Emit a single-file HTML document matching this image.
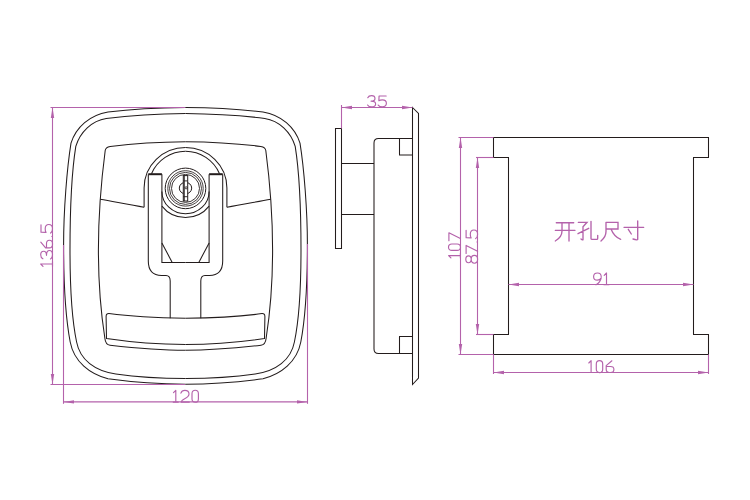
<!DOCTYPE html>
<html><head><meta charset="utf-8"><style>
html,body{margin:0;padding:0;background:#fff;width:750px;height:500px;overflow:hidden;font-family:"Liberation Sans",sans-serif;}
svg{display:block}
</style></head><body>
<svg width="750" height="500" viewBox="0 0 750 500">
<rect width="750" height="500" fill="#fff"/>
<path d="M185.5,107.4 C160,107.6 135,108.6 108,112 C90,115 76,127 71,143.2 C67,168 63.6,210 63.6,245 C63.6,290 66,320 70.2,342 C74,362 90,374 108,378.8 C135,382.5 160,384.2 185.5,384.2" stroke="#231c1c" stroke-width="1.05" fill="none"/>
<path d="M 185.50,107.40 C 211.00,107.60 236.00,108.60 263.00,112.00 C 281.00,115.00 295.00,127.00 300.00,143.20 C 304.00,168.00 307.40,210.00 307.40,245.00 C 307.40,290.00 305.00,320.00 300.80,342.00 C 297.00,362.00 281.00,374.00 263.00,378.80 C 236.00,382.50 211.00,384.20 185.50,384.20" stroke="#231c1c" stroke-width="1.05" fill="none"/>
<path d="M185.5,113.5 C160,113.8 130,115.5 106.2,118.4 C92,120.5 80,132 75.8,146.4 C72,170 70,215 70,250 C70,290 73,325 76.6,342 C80,360 95,371 115.8,374 C140,377.5 165,378.5 185.5,378.5" stroke="#231c1c" stroke-width="1.05" fill="none"/>
<path d="M 185.50,113.50 C 211.00,113.80 241.00,115.50 264.80,118.40 C 279.00,120.50 291.00,132.00 295.20,146.40 C 299.00,170.00 301.00,215.00 301.00,250.00 C 301.00,290.00 298.00,325.00 294.40,342.00 C 291.00,360.00 276.00,371.00 255.20,374.00 C 231.00,377.50 206.00,378.50 185.50,378.50" stroke="#231c1c" stroke-width="1.05" fill="none"/>
<path d="M185.5,141.8 C160,142 130,144 110.2,146.4 Q105.6,147.2 105.2,150.5 C102,175 98.4,215 98.4,250 C98.4,290 102,320 104.9,338.5 Q105.6,344.8 110,345.2 C135,348 165,350.2 185.5,350.2" stroke="#231c1c" stroke-width="1.05" fill="none"/>
<path d="M 185.50,141.80 C 211.00,142.00 241.00,144.00 260.80,146.40 Q 265.40,147.20 265.80,150.50 C 269.00,175.00 272.60,215.00 272.60,250.00 C 272.60,290.00 269.00,320.00 266.10,338.50 Q 265.40,344.80 261.00,345.20 C 236.00,348.00 206.00,350.20 185.50,350.20" stroke="#231c1c" stroke-width="1.05" fill="none"/>
<path d="M185.5,318.3 C160,318 130,316.5 109,313.6 Q106.2,313.4 106.1,316.5 L106.5,338.5 C130,342 160,344.4 185.5,344.5" stroke="#231c1c" stroke-width="1.05" fill="none"/>
<path d="M 185.50,318.30 C 211.00,318.00 241.00,316.50 262.00,313.60 Q 264.80,313.40 264.90,316.50 L 264.50,338.50 C 241.00,342.00 211.00,344.40 185.50,344.50" stroke="#231c1c" stroke-width="1.05" fill="none"/>
<path d="M100.2,199.2 C115,201.8 130,205 144.1,207.2" stroke="#231c1c" stroke-width="1.05" fill="none"/>
<path d="M 270.80,199.20 C 256.00,201.80 241.00,205.00 226.90,207.20" stroke="#231c1c" stroke-width="1.05" fill="none"/>
<path d="M144.1,207.2 L144.1,188 A41.4,40.5 0 0 1 185.5,147.5" stroke="#231c1c" stroke-width="1.05" fill="none"/>
<path d="M 226.90,207.20 L 226.90,188.00 A 41.4,40.5 0 0 0 185.50,147.50" stroke="#231c1c" stroke-width="1.05" fill="none"/>
<path d="M151.5,173.7 A37,37 0 0 1 185.5,151.3" stroke="#231c1c" stroke-width="1.05" fill="none"/>
<path d="M 219.50,173.70 A 37,37 0 0 0 185.50,151.30" stroke="#231c1c" stroke-width="1.05" fill="none"/>
<path d="M148.3,174.3 L148.3,261 Q148.3,275.4 161.6,275.4 L166,275.4 Q170.2,275.4 170.2,281 L170.2,318.3" stroke="#231c1c" stroke-width="1.05" fill="none"/>
<path d="M 222.70,174.30 L 222.70,261.00 Q 222.70,275.40 209.40,275.40 L 205.00,275.40 Q 200.80,275.40 200.80,281.00 L 200.80,318.30" stroke="#231c1c" stroke-width="1.05" fill="none"/>
<path d="M161.9,174.3 L161.9,262.4 L185.5,262.4" stroke="#231c1c" stroke-width="1.05" fill="none"/>
<path d="M 209.10,174.30 L 209.10,262.40 L 185.50,262.40" stroke="#231c1c" stroke-width="1.05" fill="none"/>
<path d="M148.3,174.2 L161.9,174.2" stroke="#231c1c" stroke-width="2.0" fill="none"/>
<path d="M 222.70,174.20 L 209.10,174.20" stroke="#231c1c" stroke-width="2.0" fill="none"/>
<path d="M161.9,243 L172.2,262.4" stroke="#231c1c" stroke-width="1.05" fill="none"/>
<path d="M 209.10,243.00 L 198.80,262.40" stroke="#231c1c" stroke-width="1.05" fill="none"/>
<path d="M161.9,191.4 A23.6,22.4 0 0 0 209.1,191.4" stroke="#231c1c" stroke-width="1.05" fill="none"/>
<path d="M161.9,206.1 A30.1,30.1 0 0 0 209.1,206.1" stroke="#231c1c" stroke-width="1.05" fill="none"/>
<circle cx="185.5" cy="188.4" r="20.3" stroke="#231c1c" stroke-width="1.0" fill="none"/>
<circle cx="185.5" cy="188.4" r="17.7" stroke="#231c1c" stroke-width="0.85" fill="none"/>
<circle cx="185.5" cy="188.4" r="16.0" stroke="#231c1c" stroke-width="0.85" fill="none"/>
<circle cx="185.5" cy="188.4" r="14.0" stroke="#231c1c" stroke-width="0.9" fill="none"/>
<ellipse cx="185.5" cy="188.1" rx="6.2" ry="5.8" stroke="#231c1c" stroke-width="1.0" fill="none"/>
<rect x="183.3" y="175.6" width="4.4" height="25.4" stroke="#231c1c" stroke-width="1.0" fill="#fff"/>
<path d="M184.3,175.6 V201 M183.3,180.9 H187.7 M183.3,196.7 H187.7" stroke="#231c1c" stroke-width="0.9" fill="none"/>
<circle cx="186.1" cy="187.8" r="1.1" stroke="#231c1c" stroke-width="0.8" fill="none"/>
<path d="M335.5,128.5 H341.5 V248.5 H335.5 Z" stroke="#231c1c" stroke-width="1.05" fill="none"/>
<path d="M341.5,163.5 H374 M341.5,214.5 H374" stroke="#231c1c" stroke-width="1.05" fill="none"/>
<path d="M412.5,138.5 H378.5 Q374,138.5 374,143 V349 Q374,353.5 378.5,353.5 H412.5" stroke="#231c1c" stroke-width="1.05" fill="none"/>
<path d="M399.5,138.5 V155 H412.5 M399.5,353.5 V336.5 H412.5" stroke="#231c1c" stroke-width="1.05" fill="none"/>
<path d="M412.5,107.5 L418.5,113.5 V378 L412.5,384.5 Z" stroke="#231c1c" stroke-width="1.05" fill="none"/>
<line x1="341.5" y1="107.5" x2="412.5" y2="107.5" stroke="#b462ab" stroke-width="1.1"/>
<line x1="341.5" y1="105" x2="341.5" y2="128.5" stroke="#b462ab" stroke-width="1.1"/>
<path d="M341.50,107.50 L352.00,105.80 L352.00,109.20 Z" fill="#b462ab"/>
<path d="M412.50,107.50 L402.00,109.20 L402.00,105.80 Z" fill="#b462ab"/>
<g transform="translate(366.90,95.10) scale(0.950) translate(0.5,0.5)" fill="none" stroke="#b462ab" stroke-width="1.21" stroke-linecap="round" stroke-linejoin="round"><path transform="translate(0.00,0)" d="M0.4,2.3 C1.1,0.8 2.6,0.1 4.4,0.1 C6.7,0.1 8.0,1.3 8.0,3.1 C8.0,4.8 6.7,5.9 3.9,5.9 M3.9,5.9 C7.1,5.9 8.7,7.1 8.7,8.9 C8.7,10.8 7.0,11.9 4.5,11.9 C2.4,11.9 0.9,11.2 0.2,9.9"/><path transform="translate(11.20,0)" d="M8.6,0.4 H1.1 L0.9,5.4 C1.8,4.9 3.1,4.6 4.6,4.6 C7.2,4.6 8.8,6 8.8,8.2 C8.8,10.5 7.1,11.9 4.6,11.9 C2.6,11.9 1,11.3 0.2,10"/></g>
<path d="M493.5,137.5 H708.5 V157.5 H693.5 V334.5 H708.5 V354.5 H493.5 V334.5 H508.5 V157.5 H493.5 Z" stroke="#231c1c" stroke-width="1.05" fill="none"/>
<line x1="460.5" y1="137.5" x2="460.5" y2="354.5" stroke="#b462ab" stroke-width="1.1"/>
<path d="M460.50,137.50 L462.20,148.00 L458.80,148.00 Z" fill="#b462ab"/>
<path d="M460.50,354.50 L458.80,344.00 L462.20,344.00 Z" fill="#b462ab"/>
<line x1="458.5" y1="137.5" x2="493.5" y2="137.5" stroke="#b462ab" stroke-width="1.1"/>
<line x1="458.5" y1="354.5" x2="493.5" y2="354.5" stroke="#b462ab" stroke-width="1.1"/>
<line x1="477.5" y1="157.5" x2="477.5" y2="334.5" stroke="#b462ab" stroke-width="1.1"/>
<path d="M477.50,157.50 L479.20,168.00 L475.80,168.00 Z" fill="#b462ab"/>
<path d="M477.50,334.50 L475.80,324.00 L479.20,324.00 Z" fill="#b462ab"/>
<line x1="476" y1="157.5" x2="493.5" y2="157.5" stroke="#b462ab" stroke-width="1.1"/>
<line x1="476" y1="334.5" x2="493.5" y2="334.5" stroke="#b462ab" stroke-width="1.1"/>
<line x1="508.5" y1="284.5" x2="693.5" y2="284.5" stroke="#b462ab" stroke-width="1.1"/>
<path d="M508.50,284.50 L519.00,282.80 L519.00,286.20 Z" fill="#b462ab"/>
<path d="M693.50,284.50 L683.00,286.20 L683.00,282.80 Z" fill="#b462ab"/>
<line x1="493.5" y1="372.5" x2="708.5" y2="372.5" stroke="#b462ab" stroke-width="1.1"/>
<path d="M493.50,372.50 L504.00,370.80 L504.00,374.20 Z" fill="#b462ab"/>
<path d="M708.50,372.50 L698.00,374.20 L698.00,370.80 Z" fill="#b462ab"/>
<line x1="493.5" y1="354.5" x2="493.5" y2="374" stroke="#b462ab" stroke-width="1.1"/>
<line x1="708.5" y1="354.5" x2="708.5" y2="374" stroke="#b462ab" stroke-width="1.1"/>
<g transform="translate(448.00,258.60) rotate(-90) scale(1.000) translate(0.5,0.5)" fill="none" stroke="#b462ab" stroke-width="1.15" stroke-linecap="round" stroke-linejoin="round"><path transform="translate(0.00,0)" d="M0.2,2.4 L2.5,0.1 V11.9 M0,11.9 H4.9"/><path transform="translate(7.30,0)" d="M0.4,3.4 C0.4,1.3 1.6,0 3.6,0 C5.6,0 6.8,1.3 6.8,3.4 V8.6 C6.8,10.7 5.6,12 3.6,12 C1.6,12 0.4,10.7 0.4,8.6 Z"/><path transform="translate(17.10,0)" d="M0.3,0.4 H8.3 L2.4,11.9"/></g>
<g transform="translate(465.20,264.20) rotate(-90) scale(1.000) translate(0.5,0.5)" fill="none" stroke="#b462ab" stroke-width="1.15" stroke-linecap="round" stroke-linejoin="round"><path transform="translate(0.00,0)" d="M4.4,5.5 C2.1,5.5 1.0,4.5 1.0,2.8 C1.0,1.1 2.3,0.1 4.4,0.1 C6.5,0.1 7.8,1.1 7.8,2.8 C7.8,4.5 6.7,5.5 4.4,5.5 C1.9,5.5 0.5,6.7 0.5,8.7 C0.5,10.7 2.1,11.9 4.4,11.9 C6.7,11.9 8.3,10.7 8.3,8.7 C8.3,6.7 6.9,5.5 4.4,5.5 Z"/><path transform="translate(10.00,0)" d="M0.3,0.4 H8.3 L2.4,11.9"/><path transform="translate(20.40,0)" d="M1.3,11.3 L1.5,11.7"/><path transform="translate(24.90,0)" d="M8.6,0.4 H1.1 L0.9,5.4 C1.8,4.9 3.1,4.6 4.6,4.6 C7.2,4.6 8.8,6 8.8,8.2 C8.8,10.5 7.1,11.9 4.6,11.9 C2.6,11.9 1,11.3 0.2,10"/></g>
<g transform="translate(592.60,272.40) scale(1.000) translate(0.5,0.5)" fill="none" stroke="#b462ab" stroke-width="1.15" stroke-linecap="round" stroke-linejoin="round"><path transform="translate(0.00,0)" d="M8.1,3.9 C8.1,1.5 6.6,0.1 4.4,0.1 C2.1,0.1 0.5,1.5 0.5,3.8 C0.5,6 2,7.3 4.2,7.3 C6,7.3 7.4,6.5 8.1,4.9 C7.6,7.6 5.4,10.5 2.9,11.9"/><path transform="translate(10.90,0)" d="M0.2,2.4 L2.5,0.1 V11.9 M0,11.9 H4.9"/></g>
<g transform="translate(588.10,360.10) scale(1.000) translate(0.5,0.5)" fill="none" stroke="#b462ab" stroke-width="1.15" stroke-linecap="round" stroke-linejoin="round"><path transform="translate(0.00,0)" d="M0.2,2.4 L2.5,0.1 V11.9 M0,11.9 H4.9"/><path transform="translate(7.30,0)" d="M0.4,3.4 C0.4,1.3 1.6,0 3.6,0 C5.6,0 6.8,1.3 6.8,3.4 V8.6 C6.8,10.7 5.6,12 3.6,12 C1.6,12 0.4,10.7 0.4,8.6 Z"/><path transform="translate(17.10,0)" d="M6.2,0.2 L0.5,5.0 V8.6 C0.5,10.7 1.8,11.9 3.9,11.9 H4.8 C6.9,11.9 8.2,10.7 8.2,8.8 C8.2,7 6.9,5.9 4.8,5.9 H0.5"/></g>
<line x1="52.5" y1="107.5" x2="52.5" y2="384.5" stroke="#b462ab" stroke-width="1.1"/>
<path d="M52.50,107.50 L54.20,118.00 L50.80,118.00 Z" fill="#b462ab"/>
<path d="M52.50,384.50 L50.80,374.00 L54.20,374.00 Z" fill="#b462ab"/>
<line x1="50.5" y1="107.5" x2="185" y2="107.5" stroke="#b462ab" stroke-width="1.1"/>
<line x1="50.5" y1="384.5" x2="185" y2="384.5" stroke="#b462ab" stroke-width="1.1"/>
<line x1="63.5" y1="401.9" x2="307.5" y2="401.9" stroke="#b462ab" stroke-width="1.1"/>
<path d="M63.50,401.90 L74.00,400.20 L74.00,403.60 Z" fill="#b462ab"/>
<path d="M307.50,401.90 L297.00,403.60 L297.00,400.20 Z" fill="#b462ab"/>
<line x1="63.5" y1="245" x2="63.5" y2="403.8" stroke="#b462ab" stroke-width="1.1"/>
<line x1="307.5" y1="244" x2="307.5" y2="403.8" stroke="#b462ab" stroke-width="1.1"/>
<g transform="translate(40.10,267.00) rotate(-90) scale(1.000) translate(0.5,0.5)" fill="none" stroke="#b462ab" stroke-width="1.15" stroke-linecap="round" stroke-linejoin="round"><path transform="translate(0.00,0)" d="M0.2,2.4 L2.5,0.1 V11.9 M0,11.9 H4.9"/><path transform="translate(7.30,0)" d="M0.4,2.3 C1.1,0.8 2.6,0.1 4.4,0.1 C6.7,0.1 8.0,1.3 8.0,3.1 C8.0,4.8 6.7,5.9 3.9,5.9 M3.9,5.9 C7.1,5.9 8.7,7.1 8.7,8.9 C8.7,10.8 7.0,11.9 4.5,11.9 C2.4,11.9 0.9,11.2 0.2,9.9"/><path transform="translate(18.10,0)" d="M6.2,0.2 L0.5,5.0 V8.6 C0.5,10.7 1.8,11.9 3.9,11.9 H4.8 C6.9,11.9 8.2,10.7 8.2,8.8 C8.2,7 6.9,5.9 4.8,5.9 H0.5"/><path transform="translate(28.70,0)" d="M1.3,11.3 L1.5,11.7"/><path transform="translate(33.20,0)" d="M8.6,0.4 H1.1 L0.9,5.4 C1.8,4.9 3.1,4.6 4.6,4.6 C7.2,4.6 8.8,6 8.8,8.2 C8.8,10.5 7.1,11.9 4.6,11.9 C2.6,11.9 1,11.3 0.2,10"/></g>
<g transform="translate(172.80,389.80) scale(1.000) translate(0.5,0.5)" fill="none" stroke="#b462ab" stroke-width="1.15" stroke-linecap="round" stroke-linejoin="round"><path transform="translate(0.00,0)" d="M0.2,2.4 L2.5,0.1 V11.9 M0,11.9 H4.9"/><path transform="translate(7.30,0)" d="M0.3,2.8 C0.9,1 2.4,0.1 4.3,0.1 C6.6,0.1 8.4,1.5 8.4,3.8 C8.4,6.2 6.4,7.4 4.1,8.5 C1.8,9.6 0.6,10.4 0.6,11.9 H8.6"/><path transform="translate(18.30,0)" d="M0.4,3.4 C0.4,1.3 1.6,0 3.6,0 C5.6,0 6.8,1.3 6.8,3.4 V8.6 C6.8,10.7 5.6,12 3.6,12 C1.6,12 0.4,10.7 0.4,8.6 Z"/></g>
<path d="M556.3,222.7 H573.7 M555.3,230.3 H575 M562,222.7 V231 C562,235.5 559.5,238.5 555.3,241 M569,222.7 V241 M578.3,222.3 H587 L583,226.7 V239.5 Q583,240.6 581,239 M578,233.7 L588.7,228.3 M591,221.3 V238.4 Q591,239.3 592.2,239.3 H597.2 Q597.7,239.3 597.7,238.3 V235.3 M606,222.3 H618 V229 H606 M606,222.3 V231.5 C606,235.5 604,238.5 601,241 M611,229 C613,234 616.5,237.8 620.7,239.3 M624,227.3 H643.7 M637.7,221 V239.3 Q637.7,240.5 633,239 M628.3,229.3 L631.3,234" stroke="#b462ab" stroke-width="1.35" fill="none" stroke-linecap="round"/>
</svg>
</body></html>
